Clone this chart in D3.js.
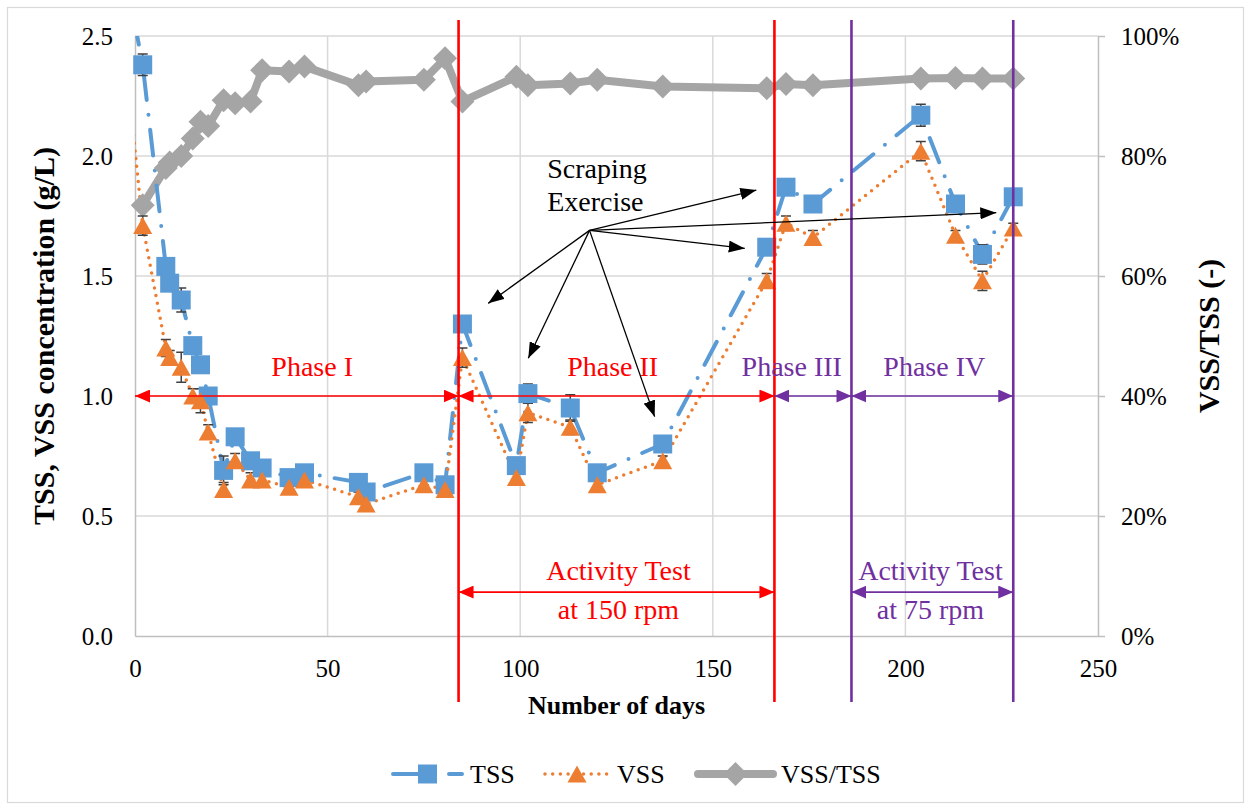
<!DOCTYPE html>
<html lang="en">
<head>
  <meta charset="UTF-8" />
  <title>TSS / VSS concentration and VSS/TSS ratio</title>
  <script src="https://d3js.org/d3.v7.min.js"></script>
  <style>
    html, body { margin: 0; padding: 0; background: #fff; }
    svg { display: block; }
    text { font-family: "Liberation Serif", "Times New Roman", serif; }
    .axis .domain { stroke: #bfbfbf; stroke-width: 1.5px; }
    .axis .tick line { stroke: #bfbfbf; stroke-width: 1.5px; }
    .axis .tick text { font-size: 25px; fill: #000; }
    .grid line { stroke: #d9d9d9; stroke-width: 1.5px; }
    .axis-title { font-size: 26px; font-weight: bold; fill: #000; text-anchor: middle; }
    .axis-title.vert { font-size: 30px; }
    .note { font-size: 28px; text-anchor: middle; }
    .legend text { font-size: 26px; fill: #000; }
  </style>
</head>
<body>
  <svg width="1253" height="810"></svg>
  <script>
    // days of sampling; the first entry only carries the line in from the left edge
    const days = [-3, 2, 8, 9, 12, 15, 17, 19, 23, 26, 30, 33, 40, 44, 58, 60, 75, 80.5, 85,
                  99, 102, 113, 120, 137, 164, 169, 176, 204, 213, 220, 228];
    const tss = [2.80, 2.38, 1.54, 1.47, 1.40, 1.21, 1.13, 1.00, 0.69, 0.83, 0.73, 0.70, 0.66, 0.68, 0.64, 0.60, 0.68, 0.63, 1.30,
                 0.71, 1.01, 0.95, 0.68, 0.80, 1.62, 1.87, 1.80, 2.17, 1.80, 1.59, 1.83];
    const vss = [2.50, 1.71, 1.20, 1.16, 1.12, 1.00, 0.98, 0.85, 0.61, 0.73, 0.65, 0.65, 0.62, 0.65, 0.58, 0.55, 0.63, 0.61, 1.16,
                 0.66, 0.93, 0.87, 0.63, 0.73, 1.48, 1.72, 1.66, 2.02, 1.67, 1.48, 1.70];
    const ratio = [null, 0.718, 0.780, 0.789, 0.800, 0.829, 0.857, 0.850, 0.893, 0.888, 0.891, 0.943, 0.941, 0.949, 0.918, 0.924, 0.927, 0.963, 0.891,
                   0.932, 0.918, 0.921, 0.927, 0.916, 0.913, 0.920, 0.918, 0.929, 0.930, 0.929, 0.929];
    const tssErr = [0, 0.045, 0.03, 0.03, 0.05, 0.03, 0.03, 0.03, 0.06, 0.03, 0.03, 0.03, 0.02, 0.02, 0.02, 0.02, 0.02, 0.02, 0.03,
                    0.02, 0.04, 0.055, 0.02, 0.02, 0.03, 0.03, 0.02, 0.046, 0.03, 0.04, 0.03];
    const vssErr = [0, 0.04, 0.035, 0.03, 0.0625, 0.03, 0.05, 0.03, 0.03, 0.03, 0.03, 0.02, 0.02, 0.02, 0.02, 0.02, 0.02, 0.02, 0.04,
                    0.02, 0.04, 0.03, 0.02, 0.02, 0.03, 0.03, 0.03, 0.04, 0.02, 0.04, 0.02];

    const xTicks = [0, 50, 100, 150, 200, 250];
    const yTicks = [0, 0.5, 1.0, 1.5, 2.0, 2.5];
    const y2Ticks = [0, 0.2, 0.4, 0.6, 0.8, 1.0];

    const phaseNames = ["Phase I", "Phase II", "Phase III", "Phase IV"];
    const phaseBounds = [0, 84, 166, 186, 228];
    const phaseLabelDays = [46, 124, 170.5, 207.5];
    const phaseLevel = 1.0;

    const activityTests = [
      { lines: ["Activity Test", "at 150 rpm"], start: 84, end: 166, labelDay: 125.5 },
      { lines: ["Activity Test", "at 75 rpm"], start: 186, end: 228, labelDay: 206.5 }
    ];
    const activityLevel = 0.183;

    const scrapingText = ["Scraping", "Exercise"];
    const scrapingTextAt = [107, 1.91];
    const scrapingHub = [118, 1.69];
    const scrapingTargets = [[91.7, 1.386], [102.1, 1.157], [134.9, 0.914], [161.3, 1.858], [158.3, 1.615], [223.6, 1.764]];

    const legendItems = ["TSS", "VSS", "VSS/TSS"];

    const RED = "#ff0000", PURPLE = "#7030a0";
    const BLUE = "#5b9bd5", ORANGE = "#ed7d31", GREY = "#a5a5a5";

    const svg = d3.select("svg");
    const W = 1253, H = 810;
    const plot = { left: 135, right: 1098, top: 36, bottom: 636 };

    const x = d3.scaleLinear().domain([0, 250]).range([plot.left, plot.right]);
    const y = d3.scaleLinear().domain([0, 2.5]).range([plot.bottom, plot.top]);
    const y2 = d3.scaleLinear().domain([0, 1]).range([plot.bottom, plot.top]);

    svg.append("rect")
      .attr("x", 7.5).attr("y", 7.5).attr("width", W - 17).attr("height", H - 15)
      .attr("fill", "#fff").attr("stroke", "#d9d9d9").attr("stroke-width", 1.2);

    const defs = svg.append("defs");
    defs.append("clipPath").attr("id", "plot-clip").append("rect")
      .attr("x", plot.left).attr("y", plot.top)
      .attr("width", plot.right - plot.left).attr("height", plot.bottom - plot.top);

    function arrowMarker(id, color, len, wid) {
      defs.append("marker")
        .attr("id", id)
        .attr("markerUnits", "userSpaceOnUse")
        .attr("viewBox", `0 0 ${len} ${wid}`)
        .attr("refX", len).attr("refY", wid / 2)
        .attr("markerWidth", len).attr("markerHeight", wid)
        .attr("orient", "auto-start-reverse")
        .append("path")
        .attr("d", `M0,0L${len},${wid / 2}L0,${wid}Z`)
        .attr("fill", color);
    }
    arrowMarker("arr-red", RED, 15, 13);
    arrowMarker("arr-purple", PURPLE, 15, 13);
    arrowMarker("arr-black", "#000", 16, 12);

    // grid
    const grid = svg.append("g").attr("class", "grid");
    grid.selectAll("line.h")
      .data(yTicks.slice(1))
      .enter().append("line")
      .attr("x1", plot.left).attr("x2", plot.right)
      .attr("y1", d => y(d)).attr("y2", d => y(d));
    grid.selectAll("line.v")
      .data(xTicks.slice(1, -1))
      .enter().append("line")
      .attr("x1", d => x(d)).attr("x2", d => x(d))
      .attr("y1", plot.top).attr("y2", plot.bottom);

    // axes
    svg.append("g").attr("class", "axis")
      .attr("transform", `translate(${plot.left},0)`)
      .call(d3.axisLeft(y).tickValues(yTicks).tickFormat(d3.format(".1f")).tickSize(0).tickPadding(22))
      .attr("font-family", null);
    svg.append("g").attr("class", "axis")
      .attr("transform", `translate(0,${plot.bottom})`)
      .call(d3.axisBottom(x).tickValues(xTicks).tickFormat(d3.format("d")).tickSize(0).tickPadding(23))
      .attr("font-family", null);
    svg.append("g").attr("class", "axis")
      .attr("transform", `translate(${plot.right},0)`)
      .call(d3.axisRight(y2).tickValues(y2Ticks).tickFormat(d3.format(".0%")).tickSize(7).tickSizeOuter(0).tickPadding(16))
      .attr("font-family", null);

    svg.append("text").attr("class", "axis-title vert")
      .attr("transform", `translate(54,${(plot.top + plot.bottom) / 2}) rotate(-90)`)
      .text("TSS, VSS concentration (g/L)");
    svg.append("text").attr("class", "axis-title vert")
      .attr("transform", `translate(1219,${(plot.top + plot.bottom) / 2}) rotate(-90)`)
      .text("VSS/TSS (-)");
    svg.append("text").attr("class", "axis-title")
      .attr("x", (plot.left + plot.right) / 2).attr("y", 714)
      .text("Number of days");

    // series
    const pts = days.map((d, i) => ({ day: d, tss: tss[i], vss: vss[i], ratio: ratio[i], tssErr: tssErr[i], vssErr: vssErr[i] }));
    const shown = pts.filter(p => p.day >= 0);

    const series = svg.append("g");
    const lines = series.append("g").attr("clip-path", "url(#plot-clip)");

    const squarePath = "M-9.5,-9.5H9.5V9.5H-9.5Z";
    const trianglePath = "M0,-8.5L9.5,8.5L-9.5,8.5Z";
    const diamondPath = "M0,-12L12,0L0,12L-12,0Z";

    lines.append("path")
      .datum(pts.filter(p => p.ratio != null))
      .attr("fill", "none").attr("stroke", GREY).attr("stroke-width", 8)
      .attr("stroke-linejoin", "round")
      .attr("d", d3.line().x(p => x(p.day)).y(p => y2(p.ratio)));
    series.selectAll("path.diamond")
      .data(shown.filter(p => p.ratio != null))
      .enter().append("path")
      .attr("class", "diamond")
      .attr("transform", p => `translate(${x(p.day)},${y2(p.ratio)})`)
      .attr("d", diamondPath).attr("fill", GREY);

    lines.append("path")
      .datum(pts)
      .attr("fill", "none").attr("stroke", BLUE).attr("stroke-width", 4)
      .attr("stroke-linecap", "round").attr("stroke-dasharray", "26,15,0,15")
      .attr("d", d3.line().x(p => x(p.day)).y(p => y(p.tss)));
    lines.append("path")
      .datum(pts)
      .attr("fill", "none").attr("stroke", ORANGE).attr("stroke-width", 3.5)
      .attr("stroke-linecap", "round").attr("stroke-dasharray", "0,7.7")
      .attr("d", d3.line().x(p => x(p.day)).y(p => y(p.vss)));

    const errs = series.append("g").attr("stroke", "#404040").attr("stroke-width", 1.5);
    [["tss", "tssErr"], ["vss", "vssErr"]].forEach(([k, e]) => {
      errs.selectAll(null)
        .data(shown)
        .enter().append("path")
        .attr("fill", "none")
        .attr("d", p => {
          const cx = x(p.day), t = y(p[k] + p[e]), b = y(p[k] - p[e]);
          return `M${cx},${t}V${b}M${cx - 5},${t}H${cx + 5}M${cx - 5},${b}H${cx + 5}`;
        });
    });

    series.selectAll("path.square")
      .data(shown)
      .enter().append("path")
      .attr("class", "square")
      .attr("transform", p => `translate(${x(p.day)},${y(p.tss)})`)
      .attr("d", squarePath).attr("fill", BLUE);
    series.selectAll("path.triangle")
      .data(shown)
      .enter().append("path")
      .attr("class", "triangle")
      .attr("transform", p => `translate(${x(p.day)},${y(p.vss)})`)
      .attr("d", trianglePath).attr("fill", ORANGE);

    // phase boundaries and labels
    const boundaryColor = [RED, RED, PURPLE, PURPLE];
    const phaseColor = [RED, RED, PURPLE, PURPLE];
    const notes = svg.append("g");

    notes.selectAll("line.bound")
      .data(phaseBounds.slice(1))
      .enter().append("line")
      .attr("x1", d => x(d)).attr("x2", d => x(d))
      .attr("y1", y(2.567)).attr("y2", y(-0.275))
      .attr("stroke", (d, i) => boundaryColor[i]).attr("stroke-width", 2.6);

    notes.selectAll("line.phase")
      .data(phaseNames)
      .enter().append("line")
      .attr("x1", (d, i) => x(phaseBounds[i])).attr("x2", (d, i) => x(phaseBounds[i + 1]))
      .attr("y1", y(phaseLevel)).attr("y2", y(phaseLevel))
      .attr("stroke", (d, i) => phaseColor[i]).attr("stroke-width", 1.7)
      .attr("marker-start", (d, i) => `url(#arr-${phaseColor[i] === RED ? "red" : "purple"})`)
      .attr("marker-end", (d, i) => `url(#arr-${phaseColor[i] === RED ? "red" : "purple"})`);

    notes.selectAll("text.phase")
      .data(phaseNames)
      .enter().append("text")
      .attr("class", "note")
      .attr("x", (d, i) => x(phaseLabelDays[i]))
      .attr("y", y(phaseLevel) - 20)
      .attr("fill", (d, i) => phaseColor[i])
      .text(d => d);

    activityTests.forEach((a, i) => {
      const c = i === 0 ? RED : PURPLE;
      notes.append("line")
        .attr("x1", x(a.start)).attr("x2", x(a.end))
        .attr("y1", y(activityLevel)).attr("y2", y(activityLevel))
        .attr("stroke", c).attr("stroke-width", 1.7)
        .attr("marker-start", `url(#arr-${i === 0 ? "red" : "purple"})`)
        .attr("marker-end", `url(#arr-${i === 0 ? "red" : "purple"})`);
      notes.append("text").attr("class", "note")
        .attr("x", x(a.labelDay)).attr("y", y(activityLevel) - 12)
        .attr("fill", c).text(a.lines[0]);
      notes.append("text").attr("class", "note")
        .attr("x", x(a.labelDay)).attr("y", y(activityLevel) + 27)
        .attr("fill", c).text(a.lines[1]);
    });

    // scraping exercise call-outs
    notes.selectAll("line.scrape")
      .data(scrapingTargets)
      .enter().append("line")
      .attr("x1", x(scrapingHub[0])).attr("y1", y(scrapingHub[1]))
      .attr("x2", d => x(d[0])).attr("y2", d => y(d[1]))
      .attr("stroke", "#000").attr("stroke-width", 1.3)
      .attr("marker-end", "url(#arr-black)");
    notes.selectAll("text.scrape")
      .data(scrapingText)
      .enter().append("text")
      .attr("x", x(scrapingTextAt[0]))
      .attr("y", (d, i) => y(scrapingTextAt[1]) + i * 33)
      .attr("font-size", 28).attr("fill", "#000")
      .text(d => d);

    // legend
    const legend = svg.append("g").attr("class", "legend").attr("transform", "translate(0,774)");
    const legendX = [393, 545, 698];
    const legendLen = [69, 64, 75];
    const legendStyle = [
      { stroke: BLUE, width: 4, dash: "26,15,0,15", marker: squarePath, fill: BLUE },
      { stroke: ORANGE, width: 3.5, dash: "0,7.7", marker: trianglePath, fill: ORANGE },
      { stroke: GREY, width: 8, dash: null, marker: diamondPath, fill: GREY }
    ];
    legendItems.forEach((name, i) => {
      const s = legendStyle[i];
      const g = legend.append("g").attr("transform", `translate(${legendX[i]},0)`);
      g.append("line")
        .attr("x1", 0).attr("x2", legendLen[i]).attr("y1", 0).attr("y2", 0)
        .attr("stroke", s.stroke).attr("stroke-width", s.width)
        .attr("stroke-linecap", "round")
        .attr("stroke-dasharray", s.dash);
      g.append("path")
        .attr("transform", `translate(${legendLen[i] / 2},0)`)
        .attr("d", s.marker).attr("fill", s.fill);
      g.append("text")
        .attr("x", legendLen[i] + 8).attr("y", 9)
        .text(name);
    });
  </script>
</body>
</html>
